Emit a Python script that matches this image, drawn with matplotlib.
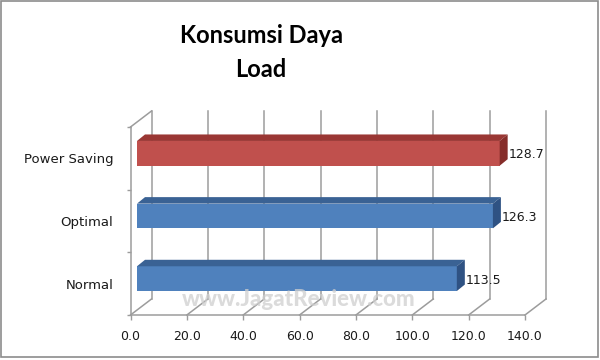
import numpy as np
import matplotlib
matplotlib.use("Agg")
import matplotlib.pyplot as plt
from matplotlib.patches import Polygon, Rectangle
from matplotlib.transforms import Affine2D, IdentityTransform

categories = ["Normal", "Optimal", "Power Saving"]
values = [113.5, 126.3, 128.7]
bar_colors = ["#4F81BD", "#4F81BD", "#C0504D"]
top_colors = ["#3A6294", "#3A6294", "#9A3734"]
side_colors = ["#2F5283", "#2F5283", "#862D2A"]
xticks = np.arange(0, 141, 20)

# pseudo 3d offsets in pixels (x right, y up)
FRONT = (6.5, 5.0)
BACK = (21.0, 16.0)
DEPTH = (8.0, 6.5)
BAR_H = 0.395
GRID = "#9C9C9C"

fig = plt.figure(figsize=(6, 3.6), dpi=100)
ax = fig.add_axes([130.5/600, 45/360, 394.5/600, 188/360])
ax.set_xlim(0, 140)
ax.set_ylim(-0.5, 2.5)
ax.set_facecolor("none")

def px(x, y, off=(0, 0)):
    p = ax.transData.transform((x, y))
    return p + np.array(off)

# back wall gridlines + floor diagonals
back = ax.transData + Affine2D().translate(*BACK)
for t in xticks:
    ax.plot([t, t], [-0.5, 2.5], transform=back, color=GRID, lw=1.1, clip_on=False, zorder=1)
    a = px(t, -0.5)
    b = px(t, -0.5, BACK)
    ax.plot([a[0], b[0]], [a[1], b[1]], transform=IdentityTransform(), color=GRID, lw=1.1, clip_on=False, zorder=1)
a = px(0, 2.5)
b = px(0, 2.5, BACK)
ax.plot([a[0], b[0]], [a[1], b[1]], transform=IdentityTransform(), color=GRID, lw=1.1, clip_on=False, zorder=1)

# watermark
fig.text(299/600, 1 - 300/360, "www.JagatReview.com", ha="center", va="center",
         fontsize=16, fontweight="black", family="Lato", color="#CFCFCF", alpha=0.75, zorder=2)

# bars
front = ax.transData + Affine2D().translate(*FRONT)
for i, v in enumerate(values):
    ax.barh(i, v, height=BAR_H, left=0, color=bar_colors[i], transform=front, zorder=3)
    p1 = px(0, i + BAR_H/2, FRONT)
    p2 = px(v, i + BAR_H/2, FRONT)
    p0 = px(v, i - BAR_H/2, FRONT)
    top = [p1, p2, p2 + DEPTH, p1 + DEPTH]
    side = [p0, p2, p2 + DEPTH, p0 + DEPTH]
    ax.add_patch(Polygon(top, closed=True, transform=IdentityTransform(),
                         facecolor=top_colors[i], edgecolor="none", clip_on=False, zorder=3))
    ax.add_patch(Polygon(side, closed=True, transform=IdentityTransform(),
                         facecolor=side_colors[i], edgecolor="none", clip_on=False, zorder=3))
    ax.annotate("%.1f" % v, xy=(v, i), xytext=(FRONT[0] + DEPTH[0] + 1, 3.5),
                textcoords="offset pixels", ha="left", va="center",
                fontsize=9, color="#1A1A1A", zorder=4)

ax.set_xlim(0, 140)
ax.set_ylim(-0.5, 2.5)

ax.set_xticks(xticks)
ax.set_xticklabels(["%.1f" % t for t in xticks])
ax.set_yticks(range(len(categories)))
ax.set_yticklabels(categories)
ax.set_yticks([-0.5, 0.5, 1.5, 2.5], minor=True)
ax.tick_params(axis="x", direction="out", length=3.5, width=1, color=GRID, pad=7,
               labelsize=9, labelcolor="#1A1A1A")
ax.tick_params(axis="y", which="major", length=0, pad=12.5, labelsize=9.5, labelcolor="#1A1A1A")
ax.tick_params(axis="y", which="minor", direction="out", length=3, width=1, color=GRID)

for s in ["top", "right"]:
    ax.spines[s].set_visible(False)
for s in ["left", "bottom"]:
    ax.spines[s].set_color(GRID)
    ax.spines[s].set_linewidth(1.1)

fig.text(261/600, 1 - 43/360, "Konsumsi Daya", ha="center", va="baseline",
         fontsize=17, fontweight="bold", family="Lato", color="black")
fig.text(261/600, 1 - 77/360, "Load", ha="center", va="baseline",
         fontsize=17, fontweight="bold", family="Lato", color="black")

fig.patches.append(Rectangle((0.5/600, 3/360), 597/600, 356/360, transform=fig.transFigure,
                             fill=False, edgecolor="#8C8C8C", lw=1.2))

fig.savefig("out.png", dpi=100)
